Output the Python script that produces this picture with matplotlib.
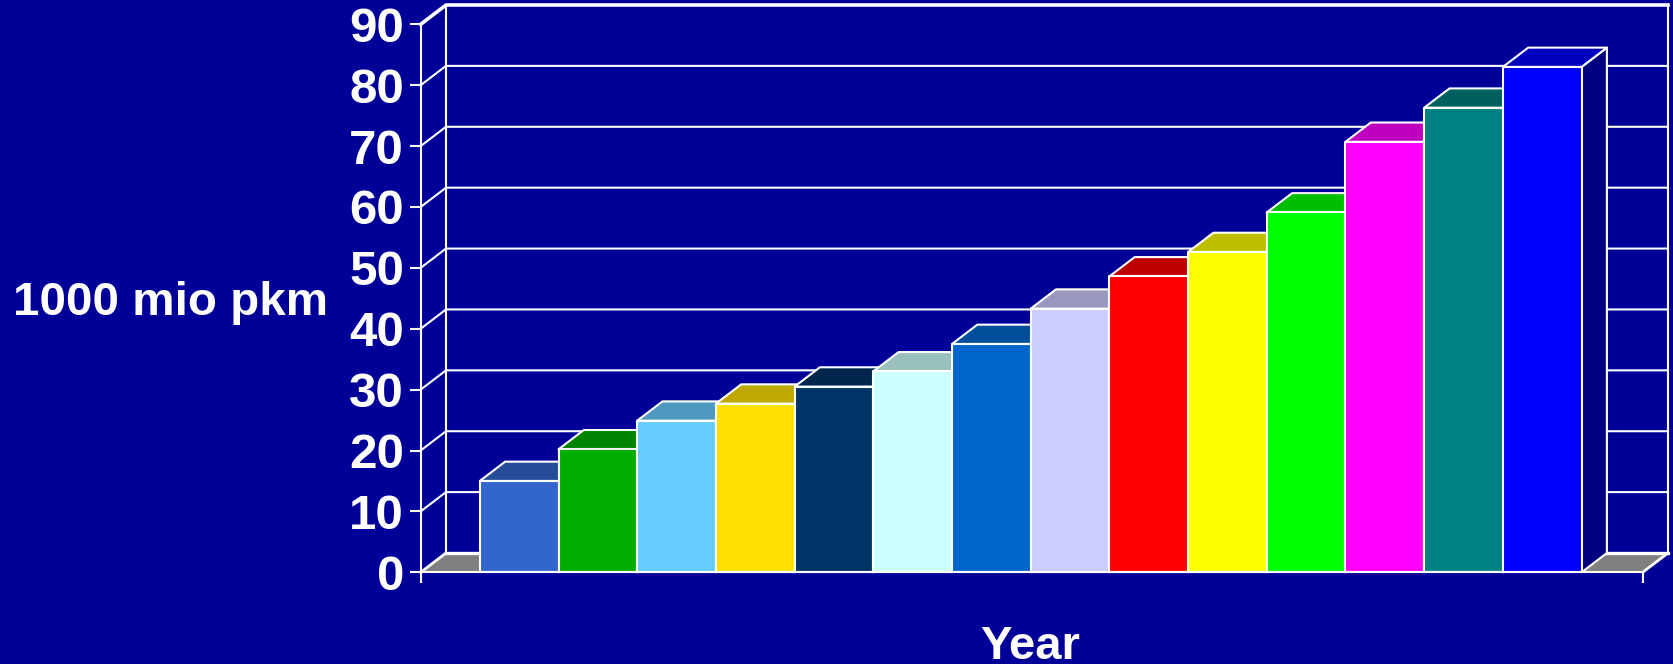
import matplotlib
matplotlib.use("Agg")
import matplotlib.pyplot as plt
from matplotlib.patches import Polygon
from matplotlib.colors import to_rgb

values = [15.0, 20.2, 24.9, 27.7, 30.5, 33.0, 37.5, 43.3, 48.6, 52.6, 59.1, 70.7, 76.3, 83.0]
colors = ["#3366CC", "#00AE00", "#66CCFF", "#FFE000", "#003366", "#CCFFFF", "#0066CC",
          "#CCCCFF", "#FF0000", "#FFFF00", "#00FF00", "#FF00FF", "#008080", "#0000FF"]
y_ticks = [0, 10, 20, 30, 40, 50, 60, 70, 80, 90]
y_label = "1000 mio pkm"
x_label = "Year"

BG = "#000099"
W, H = 1674, 664
L, R, B, T = 420.7, 1642.7, 572.3, 24.3
BAR_PX = 78.7
DX_PX, DY_PX = 25.3, 19.3
BAR_SHIFT_PX = -1.0

plt.rcParams["font.family"] = ["Liberation Sans", "DejaVu Sans"]
fig = plt.figure(figsize=(W / 100, H / 100), dpi=100, facecolor=BG)
ax = fig.add_axes([L / W, 1 - B / H, (R - L) / W, (B - T) / H], facecolor="none")

margin = (R - L) / BAR_PX / 2
center = (len(values) - 1) / 2 - BAR_SHIFT_PX / BAR_PX
x0, x1 = center - margin, center + margin
ax.set_xlim(x0, x1)
ax.set_ylim(0, 90)
dx = DX_PX / BAR_PX
dy = DY_PX / ((B - T) / 90)

WHITE = "white"
LW = 1.5


def line(xs, ys, lw=LW, z=1):
    ax.plot(xs, ys, color=WHITE, lw=lw, clip_on=False, zorder=z, solid_capstyle="projecting")


def shade(col, f):
    return tuple(c * f for c in to_rgb(col))


# floor: only the parts not hidden by the bars
for a, b in ((x0, -0.5), (len(values) - 0.5, x1)):
    ax.add_patch(Polygon([(a, 0), (b, 0), (b + dx, dy), (a + dx, dy)], closed=True,
                         fc="#808080", ec="none", clip_on=False, zorder=1))
line([x0 + dx, x1 + dx], [dy, dy], lw=2.4, z=1.5)
line([x0, x0 + dx], [0, dy], lw=2.0, z=1.5)
line([x1, x1 + dx], [0, dy], lw=2.0, z=1.5)

# walls and gridlines
for v in y_ticks[1:]:
    lw = 2.6 if v == y_ticks[-1] else LW
    line([x0, x0 + dx, x1 + dx], [v, v + dy, v + dy], lw=lw)
line([x0 + dx, x0 + dx], [dy, y_ticks[-1] + dy])
line([x1 + dx, x1 + dx], [dy, y_ticks[-1] + dy])

# bars
for i, (v, c) in enumerate(zip(values, colors)):
    l, r = i - 0.5, i + 0.5
    z = 3 + i
    kw = dict(closed=True, ec=WHITE, lw=LW, clip_on=False, zorder=z, joinstyle="round")
    ax.add_patch(Polygon([(r, 0), (r + dx, dy), (r + dx, v + dy), (r, v)], fc=shade(c, 0.5), **kw))
    ax.add_patch(Polygon([(l, v), (r, v), (r + dx, v + dy), (l + dx, v + dy)], fc=shade(c, 0.75), **kw))
    ax.add_patch(Polygon([(l, 0), (r, 0), (r, v), (l, v)], fc=c, **kw))

# front axes
for s in ("top", "right"):
    ax.spines[s].set_visible(False)
for s in ("left", "bottom"):
    ax.spines[s].set_color(WHITE)
    ax.spines[s].set_linewidth(LW)
    ax.spines[s].set_zorder(30)
ax.set_yticks(y_ticks)
ax.set_xticks([x0, x1])
ax.set_xticklabels([])
ax.tick_params(axis="both", color=WHITE, width=LW, length=8, direction="out", zorder=30)
ax.tick_params(axis="y", labelcolor=WHITE, labelsize=35.5, pad=4)
for t in ax.get_yticklabels():
    t.set_fontweight("bold")

ax.set_ylabel(y_label, rotation=0, color=WHITE, fontsize=34.2, fontweight="bold",
              ha="center", va="center")
ax.yaxis.set_label_coords((171 - L) / (R - L), (B - 303) / (B - T))
ax.set_xlabel(x_label, color=WHITE, fontsize=34, fontweight="bold", ha="center", va="baseline")
ax.xaxis.set_label_coords((1030.5 - L) / (R - L), (B - 659) / (B - T))

fig.savefig("out.png", dpi=100, facecolor=BG)
